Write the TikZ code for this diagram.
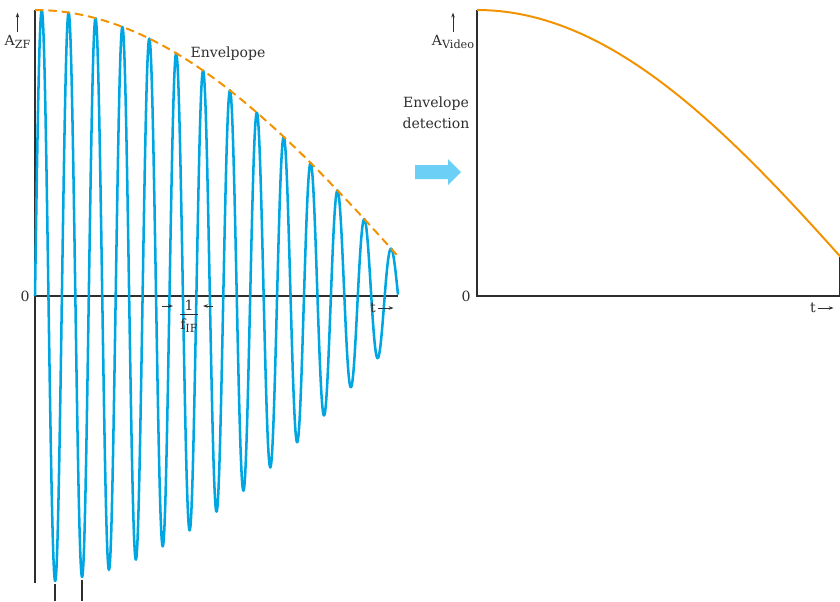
\documentclass[tikz,border=0pt]{standalone}
\usepackage{fontspec}
\setmainfont{DejaVu Serif}
\usepackage{xcolor}
\usepackage{tikz}
\usetikzlibrary{positioning,arrows.meta}
\definecolor{sigblue}{HTML}{00A6E2}
\definecolor{envorange}{HTML}{F39200}
\definecolor{arrblue}{HTML}{6CCFF6}
\definecolor{axgray}{HTML}{2E2E2E}
\newcommand{\lowsub}[1]{\raisebox{-0.45ex}{\fontsize{8}{9}\selectfont #1}}
\tikzset{
  axis/.style     = {draw=axgray, line width=1pt},
  signal/.style   = {draw=sigblue, line width=1.8pt, line join=round},
  envdash/.style  = {draw=envorange, line width=1.4pt, dash pattern=on 6pt off 3.5pt},
  envline/.style  = {draw=envorange, line width=1.4pt},
  lbl/.style      = {font=\fontsize{10}{15}\selectfont, text=axgray, inner sep=1pt},
  tip/.style      = {-{Stealth[length=3.5pt,width=2.5pt]}, draw=axgray, line width=0.5pt},
}
\begin{document}
\begin{tikzpicture}[x=0.025cm,y=-0.025cm]
  \useasboundingbox (0,0) rectangle (840,601);

  % left: IF signal
  \draw[axis] (35,10) -- (35,583);
  \draw[axis] (35,296) -- (398,296);
  \foreach \xm/\ym in {55/584, 82/580} {
    \draw[axis] (\xm,\ym) -- (\xm,601);
  }
  \draw[signal] plot[domain=35:398, samples=900]
    (\x, {296-286*cos(0.2259*(\x-35))*sin(13.3829*(\x-35))});
  \draw[envdash] plot[domain=35:398, samples=80]
    (\x, {296-286*cos(0.2259*(\x-35))});

  \node[lbl, anchor=base] (azf) at (17.5,45) {A\lowsub{ZF}};
  \draw[tip] ([yshift=1pt]azf.north) -- ++(0,-19);
  \node[lbl] (zl) at (25,296) {0};
  \node[lbl] (tl) at (373,308) {t};
  \draw[tip] (tl.east) -- ++(16,0);
  \node[lbl] (env) at (228,54) {Envelpope};

  % period 1/f_IF
  \node[lbl, inner sep=0pt] (per) at (189,316)
    {\begin{tabular}{@{}c@{}}1\\[-2pt]\hline\rule{0pt}{10pt}f\lowsub{IF}\end{tabular}};
  \coordinate (pl) at (162,306);
  \coordinate (pr) at (213,306);
  \draw[tip] (pl) -- ++(11,0);
  \draw[tip] (pr) -- ++(-10,0);

  % middle: envelope detection
  \node[lbl, align=center] (det) at (436,113) {Envelope\\detection};
  \fill[arrblue] (415,165) -- (448,165) -- (448,159) -- (461,172)
    -- (448,185) -- (448,179) -- (415,179) -- cycle;

  % right: video signal
  \draw[axis] (477,10) -- (477,296) -- (840,296) -- (840,257);
  \draw[envline] plot[domain=477:840, samples=80]
    (\x, {296-286*cos(0.2259*(\x-477))});
  \node[lbl, anchor=base] (avid) at (453,45) {A\lowsub{Video}};
  \draw[tip] ([yshift=1pt]avid.north) -- ++(0,-19);
  \node[lbl] (zr) at (466,296) {0};
  \node[lbl] (tr) at (813,308) {t};
  \draw[tip] (tr.east) -- ++(16,0);
\end{tikzpicture}
\end{document}
